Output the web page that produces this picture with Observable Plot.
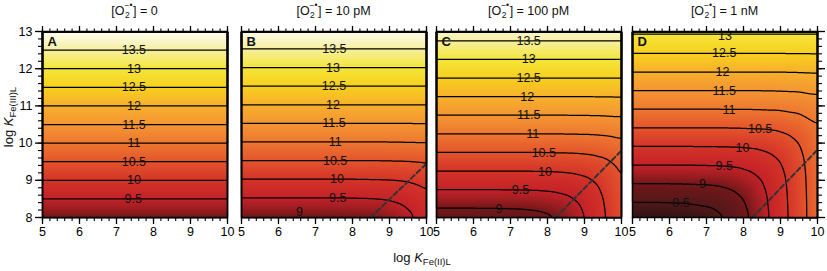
<!DOCTYPE html>
<html><head><meta charset="utf-8">
<script src="https://cdn.jsdelivr.net/npm/d3@7"></script>
<script src="https://cdn.jsdelivr.net/npm/@observablehq/plot@0.6"></script>
<style>
body{margin:0;background:#fff;font-family:'Liberation Sans',Arial,sans-serif;}
#fig{position:relative;width:827px;height:271px;overflow:hidden;}
#fig svg{position:absolute;left:0;top:0;}
.title{position:absolute;top:3px;width:200px;text-align:center;font-size:12.5px;line-height:16px;color:#111;z-index:2;}
.ss{display:inline-block;position:relative;width:8.5px;height:0;}
.ss .sp{position:absolute;left:0;top:-14px;font-size:8.5px;line-height:9px;white-space:nowrap;}
.ss .sb{position:absolute;left:0.5px;top:-4px;font-size:8.5px;line-height:9px;}
.axlab{position:absolute;font-size:13px;line-height:16px;color:#111;text-align:center;white-space:nowrap;z-index:2;}
.axlab sub{font-size:9.5px;vertical-align:-3px;line-height:0;}
</style>
</head><body>
<div id="fig"></div>
<script>
// ---- data ----
const xGrid = [5, 5.5, 6, 6.5, 7, 7.5, 8, 8.5, 9, 9.5, 10];      // log K Fe(II)L samples
const yGrid = [8, 8.5, 9, 9.5, 10, 10.5, 11, 11.5, 12, 12.5, 13]; // log K Fe(III)L samples (rows)

const zA = [
  [9.00, 9.00, 9.00, 9.00, 9.00, 9.00, 9.00, 9.00, 9.00, 9.00, 9.00],
  [9.50, 9.50, 9.50, 9.50, 9.50, 9.50, 9.50, 9.50, 9.50, 9.50, 9.50],
  [10.00, 10.00, 10.00, 10.00, 10.00, 10.00, 10.00, 10.00, 10.00, 10.00, 10.00],
  [10.50, 10.50, 10.50, 10.50, 10.50, 10.50, 10.50, 10.50, 10.50, 10.50, 10.50],
  [11.00, 11.00, 11.00, 11.00, 11.00, 11.00, 11.00, 11.00, 11.00, 11.00, 11.00],
  [11.50, 11.50, 11.50, 11.50, 11.50, 11.50, 11.50, 11.50, 11.50, 11.50, 11.50],
  [12.00, 12.00, 12.00, 12.00, 12.00, 12.00, 12.00, 12.00, 12.00, 12.00, 12.00],
  [12.50, 12.50, 12.50, 12.50, 12.50, 12.50, 12.50, 12.50, 12.50, 12.50, 12.50],
  [13.00, 13.00, 13.00, 13.00, 13.00, 13.00, 13.00, 13.00, 13.00, 13.00, 13.00],
  [13.50, 13.50, 13.50, 13.50, 13.50, 13.50, 13.50, 13.50, 13.50, 13.50, 13.50],
  [14.00, 14.00, 14.00, 14.00, 14.00, 14.00, 14.00, 14.00, 14.00, 14.00, 14.00]
];
const zB = [
  [8.97, 8.97, 8.97, 8.97, 8.97, 8.98, 8.99, 9.03, 9.15, 9.38, 9.75],
  [9.47, 9.47, 9.47, 9.47, 9.47, 9.47, 9.48, 9.49, 9.53, 9.65, 9.88],
  [9.97, 9.97, 9.97, 9.97, 9.97, 9.97, 9.97, 9.98, 9.99, 10.03, 10.15],
  [10.47, 10.47, 10.47, 10.47, 10.47, 10.47, 10.47, 10.47, 10.48, 10.49, 10.53],
  [10.97, 10.97, 10.97, 10.97, 10.97, 10.97, 10.97, 10.97, 10.97, 10.98, 10.99],
  [11.47, 11.47, 11.47, 11.47, 11.47, 11.47, 11.47, 11.47, 11.47, 11.47, 11.48],
  [11.97, 11.97, 11.97, 11.97, 11.97, 11.97, 11.97, 11.97, 11.97, 11.97, 11.97],
  [12.47, 12.47, 12.47, 12.47, 12.47, 12.47, 12.47, 12.47, 12.47, 12.47, 12.47],
  [12.97, 12.97, 12.97, 12.97, 12.97, 12.97, 12.97, 12.97, 12.97, 12.97, 12.97],
  [13.47, 13.47, 13.47, 13.47, 13.47, 13.47, 13.47, 13.47, 13.47, 13.47, 13.47],
  [13.97, 13.97, 13.97, 13.97, 13.97, 13.97, 13.97, 13.97, 13.97, 13.97, 13.97]
];
const zC = [
  [8.75, 8.75, 8.75, 8.76, 8.77, 8.81, 8.91, 9.13, 9.49, 9.93, 10.41],
  [9.25, 9.25, 9.25, 9.25, 9.26, 9.27, 9.31, 9.41, 9.63, 9.99, 10.43],
  [9.75, 9.75, 9.75, 9.75, 9.75, 9.76, 9.77, 9.81, 9.91, 10.13, 10.49],
  [10.25, 10.25, 10.25, 10.25, 10.25, 10.25, 10.26, 10.27, 10.31, 10.41, 10.63],
  [10.75, 10.75, 10.75, 10.75, 10.75, 10.75, 10.75, 10.76, 10.77, 10.81, 10.91],
  [11.25, 11.25, 11.25, 11.25, 11.25, 11.25, 11.25, 11.25, 11.26, 11.27, 11.31],
  [11.75, 11.75, 11.75, 11.75, 11.75, 11.75, 11.75, 11.75, 11.75, 11.76, 11.77],
  [12.25, 12.25, 12.25, 12.25, 12.25, 12.25, 12.25, 12.25, 12.25, 12.25, 12.26],
  [12.75, 12.75, 12.75, 12.75, 12.75, 12.75, 12.75, 12.75, 12.75, 12.75, 12.75],
  [13.25, 13.25, 13.25, 13.25, 13.25, 13.25, 13.25, 13.25, 13.25, 13.25, 13.25],
  [13.75, 13.75, 13.75, 13.75, 13.75, 13.75, 13.75, 13.75, 13.75, 13.75, 13.75]
];
const zD = [
  [8.09, 8.10, 8.11, 8.15, 8.27, 8.50, 8.87, 9.32, 9.80, 10.29, 10.79],
  [8.59, 8.59, 8.60, 8.61, 8.65, 8.77, 9.00, 9.37, 9.82, 10.30, 10.79],
  [9.09, 9.09, 9.09, 9.10, 9.11, 9.15, 9.27, 9.50, 9.87, 10.32, 10.80],
  [9.59, 9.59, 9.59, 9.59, 9.60, 9.61, 9.65, 9.77, 10.00, 10.37, 10.82],
  [10.09, 10.09, 10.09, 10.09, 10.09, 10.10, 10.11, 10.15, 10.27, 10.50, 10.87],
  [10.59, 10.59, 10.59, 10.59, 10.59, 10.59, 10.60, 10.61, 10.65, 10.77, 11.00],
  [11.09, 11.09, 11.09, 11.09, 11.09, 11.09, 11.09, 11.10, 11.11, 11.15, 11.27],
  [11.59, 11.59, 11.59, 11.59, 11.59, 11.59, 11.59, 11.59, 11.60, 11.61, 11.65],
  [12.09, 12.09, 12.09, 12.09, 12.09, 12.09, 12.09, 12.09, 12.09, 12.10, 12.11],
  [12.59, 12.59, 12.59, 12.59, 12.59, 12.59, 12.59, 12.59, 12.59, 12.59, 12.60],
  [13.09, 13.09, 13.09, 13.09, 13.09, 13.09, 13.09, 13.09, 13.09, 13.09, 13.09]
];

const levels = [8.5, 9, 9.5, 10, 10.5, 11, 11.5, 12, 12.5, 13, 13.5];

// contour labels: [level, x, y]
const labelsA = [[13.5,7.47,12.5],[13,7.47,12],[12.5,7.47,11.5],[12,7.47,11],[11.5,7.47,10.5],[11,7.47,10],[10.5,7.47,9.5],[10,7.47,9],[9.5,7.45,8.5]];
const labelsB = [[13.5,7.51,12.53],[13,7.47,12.03],[12.5,7.5,11.53],[12,7.47,11.03],[11.5,7.5,10.53],[11,7.53,10.03],[10.5,7.53,9.53],[10,7.58,9.03],[9.5,7.6,8.53],[9,6.57,8.14]];
const labelsC = [[13.5,7.49,12.75],[13,7.49,12.25],[12.5,7.49,11.75],[12,7.45,11.25],[11.5,7.49,10.75],[11,7.6,10.25],[10.5,7.9,9.74],[10,7.93,9.23],[9.5,7.27,8.73],[9,6.69,8.24]];
const labelsD = [[13,7.5,12.89],[12.5,7.48,12.41],[12,7.43,11.91],[11.5,7.48,11.41],[11,7.61,10.9],[10.5,8.45,10.38],[10,7.97,9.88],[9.5,7.48,9.39],[9,6.89,8.89],[8.5,6.31,8.39]];

// dashed boundary lines: x values, y values
const dashBx = [8.49, 9.97], dashBy = [8, 9.42];
const dashCx = [8.22, 9.98], dashCy = [8, 9.78];
const dashDx = [8.24, 9.98], dashDy = [8, 9.8];

const titleValues = ["0", "10 pM", "100 pM", "1 nM"];
const panelLetters = ["A", "B", "C", "D"];
const xTicks = [5, 6, 7, 8, 9, 10];
const yTicks = [8, 9, 10, 11, 12, 13];

const colorStops = [8, 8.5, 9, 9.25, 9.5, 10, 10.5, 11, 11.5, 12, 12.5, 13, 13.5, 14];
const colorRange = ["#281212","#521818","#741719","#a01e22","#c42228","#d43428","#e4542c","#ee7830","#f49632","#f7b02c","#f7d01e","#f5e63a","#f6f0a0","#fffdf4"];

// ---- layout ----
const W = 827, H = 271, TOP = 31, BOTTOM = 217;
const frames = [[42, 227], [241, 426], [436, 621], [632, 817]];
const grids = [zA, zB, zC, zD];
const labelSets = [labelsA, labelsB, labelsC, labelsD];
const dashes = [null, [dashBx, dashBy], [dashCx, dashCy], [dashDx, dashDy]];
const xMinor = d3.range(50, 101, 2).map(v => v / 10);
const yMinor = d3.range(80, 131, 2).map(v => v / 10);
const blank = () => "";

const fig = document.getElementById("fig");

grids.forEach((grid, i) => {
  const pts = [];
  yGrid.forEach((y, r) => xGrid.forEach((x, c) => pts.push({x, y, z: grid[r][c]})));
  const labs = labelSets[i].map(([t, x, y]) => ({t: String(t), x, y}));
  const [L, R] = frames[i];
  const marks = [
    Plot.raster(pts, {x: "x", y: "y", fill: "z", interpolate: "barycentric", pixelSize: 1}),
    Plot.contour(pts, {x: "x", y: "y", value: "z", interpolate: "barycentric", pixelSize: 1, blur: 3,
      thresholds: levels, stroke: "black", strokeWidth: 1.25, fill: "none"})
  ];
  if (dashes[i]) {
    const [dx, dy] = dashes[i];
    marks.push(Plot.line(dx.map((x, k) => ({x, y: dy[k]})), {x: "x", y: "y", stroke: "#333", strokeWidth: 2, strokeDasharray: "5,3"}));
  }
  marks.push(
    Plot.text(labs, {x: "x", y: "y", text: "t", fontSize: 12.5, fill: "#111"}),
    Plot.text([panelLetters[i]], {frameAnchor: "top-left", text: d => d, dx: 5, dy: 5, fontSize: 13, fontWeight: "bold", fill: "#111"}),
    Plot.frame({stroke: "black", strokeWidth: 1.5}),
    Plot.axisX(xTicks, {anchor: "bottom", tickSize: 7, tickPadding: 3, fontSize: 12.5, strokeWidth: 1.3, label: null}),
    Plot.axisX(xMinor, {anchor: "bottom", tickSize: 4, tickFormat: blank, strokeWidth: 1.1, label: null}),
    Plot.axisX(xTicks, {anchor: "top", tickSize: 6, tickFormat: blank, strokeWidth: 1.3, label: null}),
    Plot.axisX(xMinor, {anchor: "top", tickSize: 3.5, tickFormat: blank, strokeWidth: 1.1, label: null})
  );
  if (i === 0) marks.push(
    Plot.axisY(yTicks, {anchor: "left", tickSize: 7, tickPadding: 3, fontSize: 12.5, strokeWidth: 1.3, label: null}),
    Plot.axisY(yMinor, {anchor: "left", tickSize: 4, tickFormat: blank, strokeWidth: 1.1, label: null})
  );
  if (i === 3) marks.push(
    Plot.axisY(yTicks, {anchor: "right", tickSize: 7, tickFormat: blank, strokeWidth: 1.3, label: null}),
    Plot.axisY(yMinor, {anchor: "right", tickSize: 4, tickFormat: blank, strokeWidth: 1.1, label: null})
  );
  const svg = Plot.plot({
    width: W, height: H,
    marginLeft: L, marginRight: W - R, marginTop: TOP, marginBottom: H - BOTTOM,
    x: {domain: [5, 10], axis: null, label: null},
    y: {domain: [8, 13], axis: null, label: null},
    color: {type: "linear", domain: colorStops, range: colorRange},
    style: {background: "transparent", overflow: "visible", color: "black", fontFamily: "'Liberation Sans', Arial, sans-serif"},
    marks
  });
  fig.appendChild(svg);

  const t = document.createElement("div");
  t.className = "title";
  t.style.left = ((L + R) / 2 - 100) + "px";
  t.innerHTML = '[O<span class="ss"><span class="sp">\u2212\u2022</span><span class="sb">2</span></span>] = ' + titleValues[i];
  fig.appendChild(t);
});

const xl = document.createElement("div");
xl.className = "axlab";
xl.style.left = "322px"; xl.style.width = "200px"; xl.style.top = "250px";
xl.innerHTML = 'log <i>K</i><sub>Fe(II)L</sub>';
fig.appendChild(xl);

const yl = document.createElement("div");
yl.className = "axlab";
yl.style.left = (9 - 60) + "px"; yl.style.width = "120px"; yl.style.top = (117 - 8) + "px"; yl.style.height = "16px";
yl.style.transform = "rotate(-90deg)";
yl.innerHTML = 'log <i>K</i><sub>Fe(III)L</sub>';
fig.appendChild(yl);
</script>
</body></html>
